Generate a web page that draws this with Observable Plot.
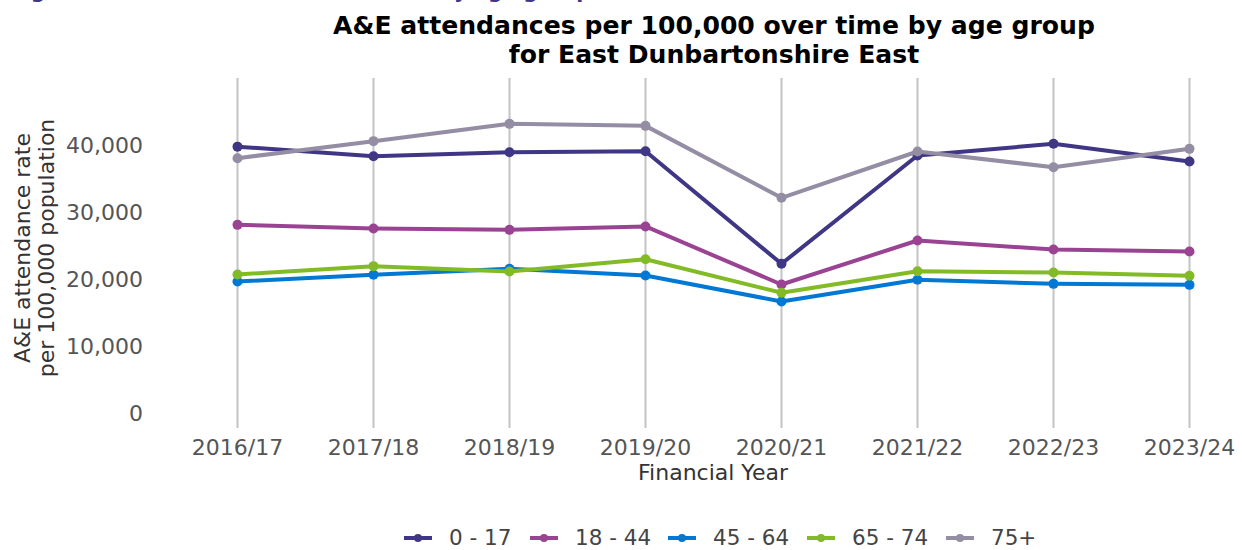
<!DOCTYPE html>
<html>
<head>
<meta charset="utf-8">
<script src="https://cdn.jsdelivr.net/npm/d3@7"></script>
<script src="https://cdn.jsdelivr.net/npm/@observablehq/plot@0.6"></script>
<style>
  body { margin: 0; background: #fff; font-family: "DejaVu Sans", sans-serif; }
  #wrap { position: relative; width: 1242px; height: 550px; overflow: hidden; }
  #fig { position: absolute; left: 10px; top: -19px; font-size: 20.3px; line-height: 21px; font-weight: bold; color: #3F3685; white-space: nowrap; }
  #title { position: absolute; left: 714px; top: 11px; transform: translateX(-50%); font-size: 25.1px; line-height: 29px; font-weight: bold; color: #000; text-align: center; white-space: nowrap; }
  #chart { position: absolute; left: 0; top: 0; }
  #ytitle { position: absolute; left: 35px; top: 248px; transform: translate(-50%, -50%) rotate(-90deg); font-size: 22px; line-height: 24px; color: #333; text-align: center; white-space: nowrap; }
  #xtitle { position: absolute; left: 713px; top: 473px; transform: translate(-50%, -50%); font-size: 22px; line-height: 24px; color: #333; white-space: nowrap; }
  #legend { position: absolute; left: 0; top: 525px; width: 1242px; height: 25px; }
  .item { position: absolute; top: 0; height: 25px; display: flex; align-items: center; font-size: 21.5px; line-height: 25px; color: #444; white-space: nowrap; }
  .item svg { margin-right: 17px; }
</style>
</head>
<body>
<div id="wrap">
  <div id="fig">Figure 9: A&amp;E attendances over time by age group</div>
  <div id="title">A&amp;E attendances per 100,000 over time by age group<br>for East Dunbartonshire East</div>
  <div id="chart"></div>
  <div id="ytitle">A&amp;E attendance rate<br>per 100,000 population</div>
  <div id="xtitle">Financial Year</div>
  <div id="legend"></div>
</div>
<script>
const years = ["2016/17", "2017/18", "2018/19", "2019/20", "2020/21", "2021/22", "2022/23", "2023/24"];
const groups = ["0 - 17", "18 - 44", "45 - 64", "65 - 74", "75+"];
const colors = ["#3F3685", "#9B4393", "#0078D4", "#83BB26", "#948DA3"];
const rate0to17  = [39950, 38520, 39120, 39270, 22410, 38620, 40370, 37720];
const rate18to44 = [28240, 27690, 27490, 28000, 19310, 25900, 24550, 24250];
const rate45to64 = [19760, 20760, 21660, 20660, 16770, 20010, 19410, 19260];
const rate65to74 = [20810, 22060, 21260, 23100, 18070, 21300, 21110, 20610];
const rate75plus = [38220, 40770, 43360, 43060, 32290, 39220, 36870, 39620];
const yTicks = [0, 10000, 20000, 30000, 40000];

const series = [rate0to17, rate18to44, rate45to64, rate65to74, rate75plus];
const seriesMarks = [];
series.forEach((vals, i) => {
  const rows = vals.map((v, j) => ({ year: years[j], group: groups[i], value: v }));
  seriesMarks.push(Plot.line(rows, { x: "year", y: "value", stroke: colors[i], strokeWidth: 4 }));
  seriesMarks.push(Plot.dot(rows, { x: "year", y: "value", fill: colors[i], r: 5 }));
});

const chart = Plot.plot({
  width: 1242,
  height: 500,
  marginTop: 78,
  marginBottom: 72,
  marginLeft: 234.5,
  marginRight: 51,
  style: { fontFamily: "DejaVu Sans, sans-serif", fontSize: "22px", background: "transparent", overflow: "visible" },
  x: { type: "point", domain: years, padding: 0 },
  y: { domain: [-2245, 50150] },
  marks: [
    Plot.ruleX(years, { stroke: "#c4c4c4", strokeWidth: 2 }),
    Plot.axisY({ ticks: yTicks, tickSize: 0, tickPadding: 92, tickFormat: d3.format(","), label: null, fill: "#555", fontSize: 22 }),
    Plot.axisX({ tickSize: 0, tickPadding: 11, label: null, fill: "#555", fontSize: 22 }),
    ...seriesMarks
  ]
});
document.getElementById("chart").appendChild(chart);

const legendX = [404, 530, 668, 807, 946];
const legend = document.getElementById("legend");
groups.forEach((g, i) => {
  const item = document.createElement("div");
  item.className = "item";
  item.style.left = legendX[i] + "px";
  item.innerHTML = `<svg width="28" height="12"><line x1="0" y1="6" x2="28" y2="6" stroke="${colors[i]}" stroke-width="4"/><circle cx="14" cy="6" r="4" fill="${colors[i]}"/></svg><span>${g}</span>`;
  legend.appendChild(item);
});
</script>
</body>
</html>
